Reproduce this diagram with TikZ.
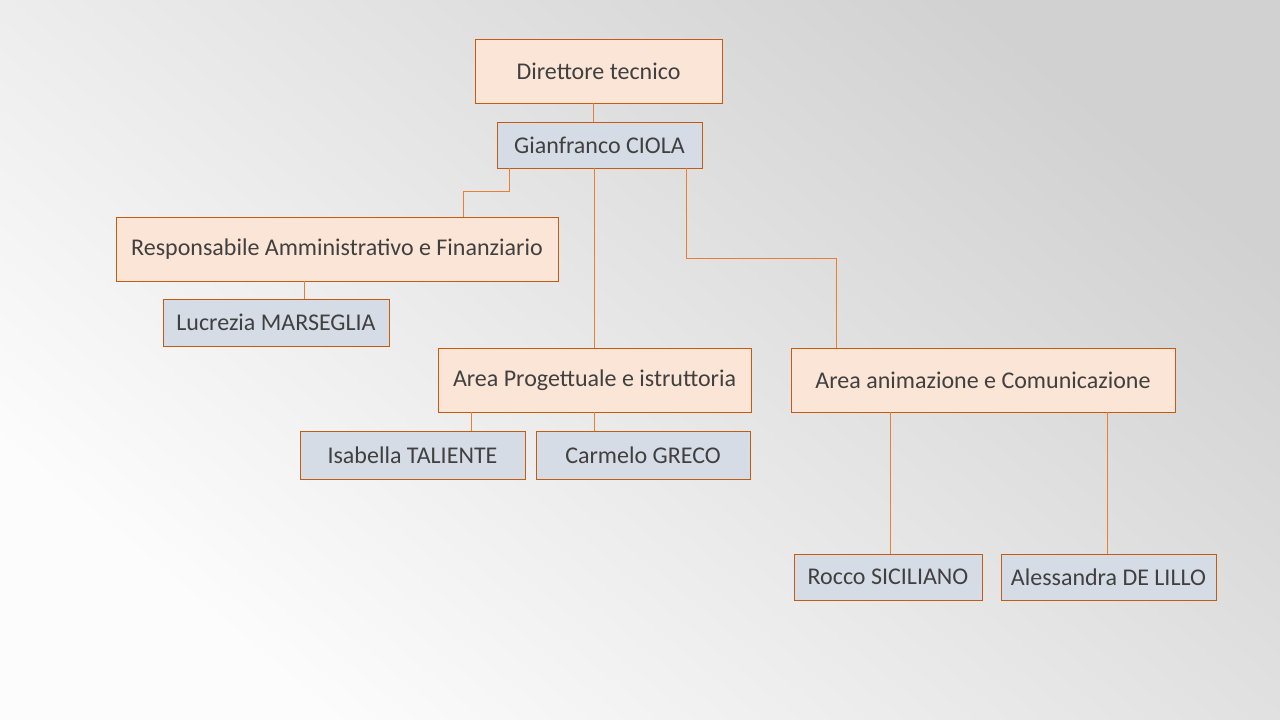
\documentclass[tikz,border=0pt]{standalone}
\usepackage{fontspec}
\setmainfont{Carlito}
\definecolor{peach}{HTML}{FBE5D6}
\definecolor{slate}{HTML}{D6DCE5}
\definecolor{bord}{HTML}{C55A11}
\definecolor{lin}{HTML}{ED7D31}
\definecolor{txt}{HTML}{404040}
\begin{document}
\begin{tikzpicture}[x=1pt,y=-1pt,
 bx/.style={draw=bord,line width=0.8pt,inner sep=0pt},
 conn/.style={draw=lin,line width=0.9pt}]
\useasboundingbox (0,0) rectangle (1280,720);
\shade[bottom color=black!1,top color=black!18,shading angle=-40] (0,0) rectangle (1280,720);
\newcommand{\bxn}[6]{\node[bx,fill=#6,minimum width=#4-#2,minimum height=#5-#3] (#1) at ({(#2+#4)/2},{(#3+#5)/2}) {};}
\bxn{dir}{475}{39}{722}{103}{peach}
\bxn{gc}{497}{122}{702}{168}{slate}
\bxn{resp}{116}{217}{558}{281}{peach}
\bxn{luc}{163}{299}{389}{346}{slate}
\bxn{prog}{438}{348}{751}{412}{peach}
\bxn{anim}{791}{348}{1175}{412}{peach}
\bxn{isa}{300}{431}{525}{479}{slate}
\bxn{car}{536}{431}{750}{479}{slate}
\bxn{roc}{794}{554}{982}{600}{slate}
\bxn{ale}{1001}{554}{1216}{600}{slate}
\begin{scope}[text=txt,font=\fontsize{24}{28}\selectfont]
\node at (dir) {Direttore tecnico};
\node at (gc) {Gianfranco CIOLA};
\node at (resp) {Responsabile Amministrativo e Finanziario};
\node at (luc) {Lucrezia MARSEGLIA};
\node at (prog) {Area Progettuale e istruttoria};
\node at (anim) {Area animazione e Comunicazione};
\node at (isa) {Isabella TALIENTE};
\node at (car) {Carmelo GRECO};
\node at (roc) {Rocco SICILIANO};
\node at (ale) {Alessandra DE LILLO};
\end{scope}
\draw[conn] (dir.south -| 593,0) -- (gc.north -| 593,0);
\draw[conn] (gc.south -| 509,0) -- (509,191) -- (463,191) -- (resp.north -| 463,0);
\draw[conn] (gc.south -| 594,0) -- (prog.north -| 594,0);
\draw[conn] (gc.south -| 686,0) -- (686,258) -- (836,258) -- (anim.north -| 836,0);
\draw[conn] (resp.south -| 304,0) -- (luc.north -| 304,0);
\draw[conn] (prog.south -| 471,0) -- (isa.north -| 471,0);
\draw[conn] (prog.south -| 594,0) -- (car.north -| 594,0);
\draw[conn] (anim.south -| 890,0) -- (roc.north -| 890,0);
\draw[conn] (anim.south -| 1107,0) -- (ale.north -| 1107,0);
\end{tikzpicture}
\end{document}
